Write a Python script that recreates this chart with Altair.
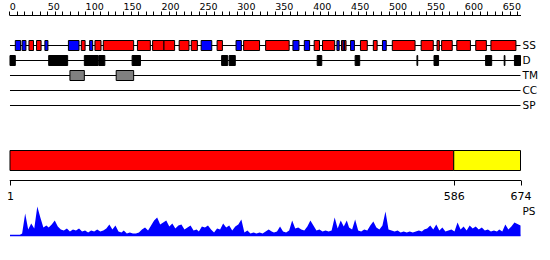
import altair as alt
import pandas as pd

LENGTH = 674
tracks = ["SS", "D", "TM", "CC", "SP"]

# secondary structure elements: H = helix (red), E = strand (blue)
ss_type = ["E", "E", "H", "H", "E", "E", "H", "E", "H", "H",
           "H", "H", "H", "H", "H", "E", "H", "E", "H", "H",
           "E", "E", "H", "H", "E", "H", "E", "E", "H", "H",
           "E", "H", "H", "H", "H", "H", "H", "H"]
ss_start = [8, 17, 26, 36, 47, 78, 95, 106, 113, 124,
            169, 189, 204, 224, 240, 253, 274, 299, 309, 338,
            374, 389, 402, 413, 432, 438, 440, 450, 463, 480,
            492, 505, 543, 564, 570, 590, 615, 635]
ss_end = [15, 22, 32, 42, 51, 92, 100, 110, 121, 164,
          186, 204, 218, 237, 248, 267, 281, 306, 330, 369,
          382, 396, 409, 429, 435, 444, 442, 455, 472, 485,
          497, 535, 559, 567, 584, 608, 629, 668]

# disordered regions (black)
d_start = [1, 52, 99, 118, 162, 280, 290, 406, 456, 537.5, 560, 628, 652.5, 666]
d_end = [8, 77, 117, 126, 173, 288, 298, 412, 462, 538.5, 566, 636, 653.5, 674]

# transmembrane segments (grey)
tm_start = [80, 141]
tm_end = [99, 164]

# domain bar
region_start = [1, 586]
region_end = [586, 674]
region_fill = ["#ff0000", "#ffff00"]
region_ticks = [1, 586, 674]

# PS profile
ps_score = [0, 0, 0, 0, 2, 22, 6, 12, 7, 29, 18, 8, 10, 8, 11, 15, 9, 6, 5, 7,
            4, 6, 5, 7, 4, 5, 3, 5, 4, 6, 4, 5, 7, 11, 6, 10, 4, 3, 5, 2,
            3, 2, 2, 3, 6, 8, 5, 10, 15, 18, 11, 13, 15, 9, 12, 7, 10, 11, 6, 8,
            10, 5, 6, 4, 9, 8, 10, 6, 3, 7, 6, 12, 8, 10, 5, 9, 11, 16, 3, 5,
            2, 3, 2, 3, 2, 4, 6, 4, 3, 4, 9, 4, 3, 5, 15, 7, 8, 6, 5, 9,
            15, 10, 5, 6, 4, 5, 4, 5, 18, 7, 15, 9, 15, 8, 6, 16, 5, 4, 6, 5,
            10, 14, 8, 6, 10, 24, 6, 5, 4, 5, 3, 4, 3, 4, 3, 4, 5, 4, 6, 7,
            10, 6, 11, 5, 8, 4, 5, 6, 4, 13, 6, 9, 5, 10, 7, 9, 6, 8, 5, 6,
            4, 5, 4, 6, 4, 11, 6, 9, 13, 10]
ps_pos = [1 + round(i * 3.96) for i in range(len(ps_score) - 1)] + [LENGTH]

FONT = "DejaVu Sans"

# ---- data tables ----
lines_df = pd.DataFrame({"track": tracks, "start": 1, "end": LENGTH})
colors = {"H": "#ff0000", "E": "#0000ff"}
boxes_df = pd.concat([
    pd.DataFrame({"track": "SS", "start": ss_start, "end": ss_end,
                  "fill": [colors[t] for t in ss_type]}),
    pd.DataFrame({"track": "D", "start": d_start, "end": d_end, "fill": "#000000"}),
    pd.DataFrame({"track": "TM", "start": tm_start, "end": tm_end, "fill": "#808080"}),
], ignore_index=True)
region_df = pd.DataFrame({"start": region_start, "end": region_end,
                          "fill": region_fill, "lo": 0, "hi": 1})
ps_df = pd.DataFrame({"pos": ps_pos, "score": ps_score})
base_df = pd.DataFrame({"start": [1], "end": [LENGTH], "v": [0]})
ps_label_df = pd.DataFrame({"pos": [LENGTH], "v": [24], "label": ["PS"]})

# ---- scales ----
X = alt.Scale(domain=[0, LENGTH], range=[9.24, 520.5], nice=False, zero=False)
Ytr = alt.Scale(type="point", domain=tracks, range=[45.5, 105.5], padding=0)
Ybar = alt.Scale(domain=[0, 1], range=[170.5, 150.5])
Yps = alt.Scale(domain=[0, 30], range=[235.5, 205.5], nice=False)

top_axis = alt.Axis(orient="top", offset=-15, values=list(range(0, LENGTH, 10)),
                    labelExpr="datum.value % 50 === 0 ? datum.label : ''",
                    tickSize=4, labelPadding=0, labelAlign="left", labelFlush=False,
                    labelOverlap=False, labelFont=FONT, labelFontSize=9.5,
                    labelColor="black", domainColor="black", tickColor="black",
                    grid=False, title=None)
bottom_axis = alt.Axis(orient="bottom", offset=-80, values=region_ticks,
                       tickSize=5, labelPadding=5, labelAlign="center", labelFlush=False,
                       labelOverlap=False, labelFont=FONT, labelFontSize=11,
                       labelColor="black", domainColor="black", tickColor="black",
                       grid=False, title=None)

lines = alt.Chart(lines_df).mark_rule(color="black", strokeWidth=1).encode(
    x=alt.X("start:Q", scale=X, axis=top_axis),
    x2="end:Q",
    y=alt.Y("track:N", scale=Ytr, axis=None),
)
boxes = alt.Chart(boxes_df).mark_bar(size=10, stroke="black", strokeWidth=1).encode(
    x=alt.X("start:Q", scale=X, axis=None),
    x2="end:Q",
    y=alt.Y("track:N", scale=Ytr, axis=None),
    fill=alt.Fill("fill:N", scale=None),
)
track_labels = alt.Chart(lines_df).mark_text(
    align="left", baseline="middle", dx=2, font=FONT, fontSize=10.5, color="black"
).encode(
    x=alt.X("end:Q", scale=X, axis=None),
    y=alt.Y("track:N", scale=Ytr, axis=None),
    text="track:N",
)
region = alt.Chart(region_df).mark_rect(stroke="black", strokeWidth=1).encode(
    x=alt.X("start:Q", scale=X, axis=bottom_axis),
    x2="end:Q",
    y=alt.Y("lo:Q", scale=Ybar, axis=None),
    y2="hi:Q",
    fill=alt.Fill("fill:N", scale=None),
)
ps_area = alt.Chart(ps_df).mark_area(color="#0000ff", interpolate="linear").encode(
    x=alt.X("pos:Q", scale=X, axis=None),
    y=alt.Y("score:Q", scale=Yps, axis=None),
)
ps_base = alt.Chart(base_df).mark_rule(color="#0000ff", strokeWidth=1.5).encode(
    x=alt.X("start:Q", scale=X, axis=None),
    x2="end:Q",
    y=alt.Y("v:Q", scale=Yps, axis=None),
)
ps_label = alt.Chart(ps_label_df).mark_text(
    align="left", baseline="middle", dx=2, font=FONT, fontSize=10.5, color="black"
).encode(
    x=alt.X("pos:Q", scale=X, axis=None),
    y=alt.Y("v:Q", scale=Yps, axis=None),
    text="label:N",
)

chart = alt.layer(
    lines, boxes, track_labels, region, ps_area, ps_base, ps_label
).resolve_scale(y="independent").resolve_axis(x="independent").properties(
    width=550, height=260, padding=0, autosize=alt.AutoSizeParams(type="none"),
    background="white",
).configure_view(stroke=None)

chart.save("out.html", embed_options={"renderer": "svg", "actions": False})
